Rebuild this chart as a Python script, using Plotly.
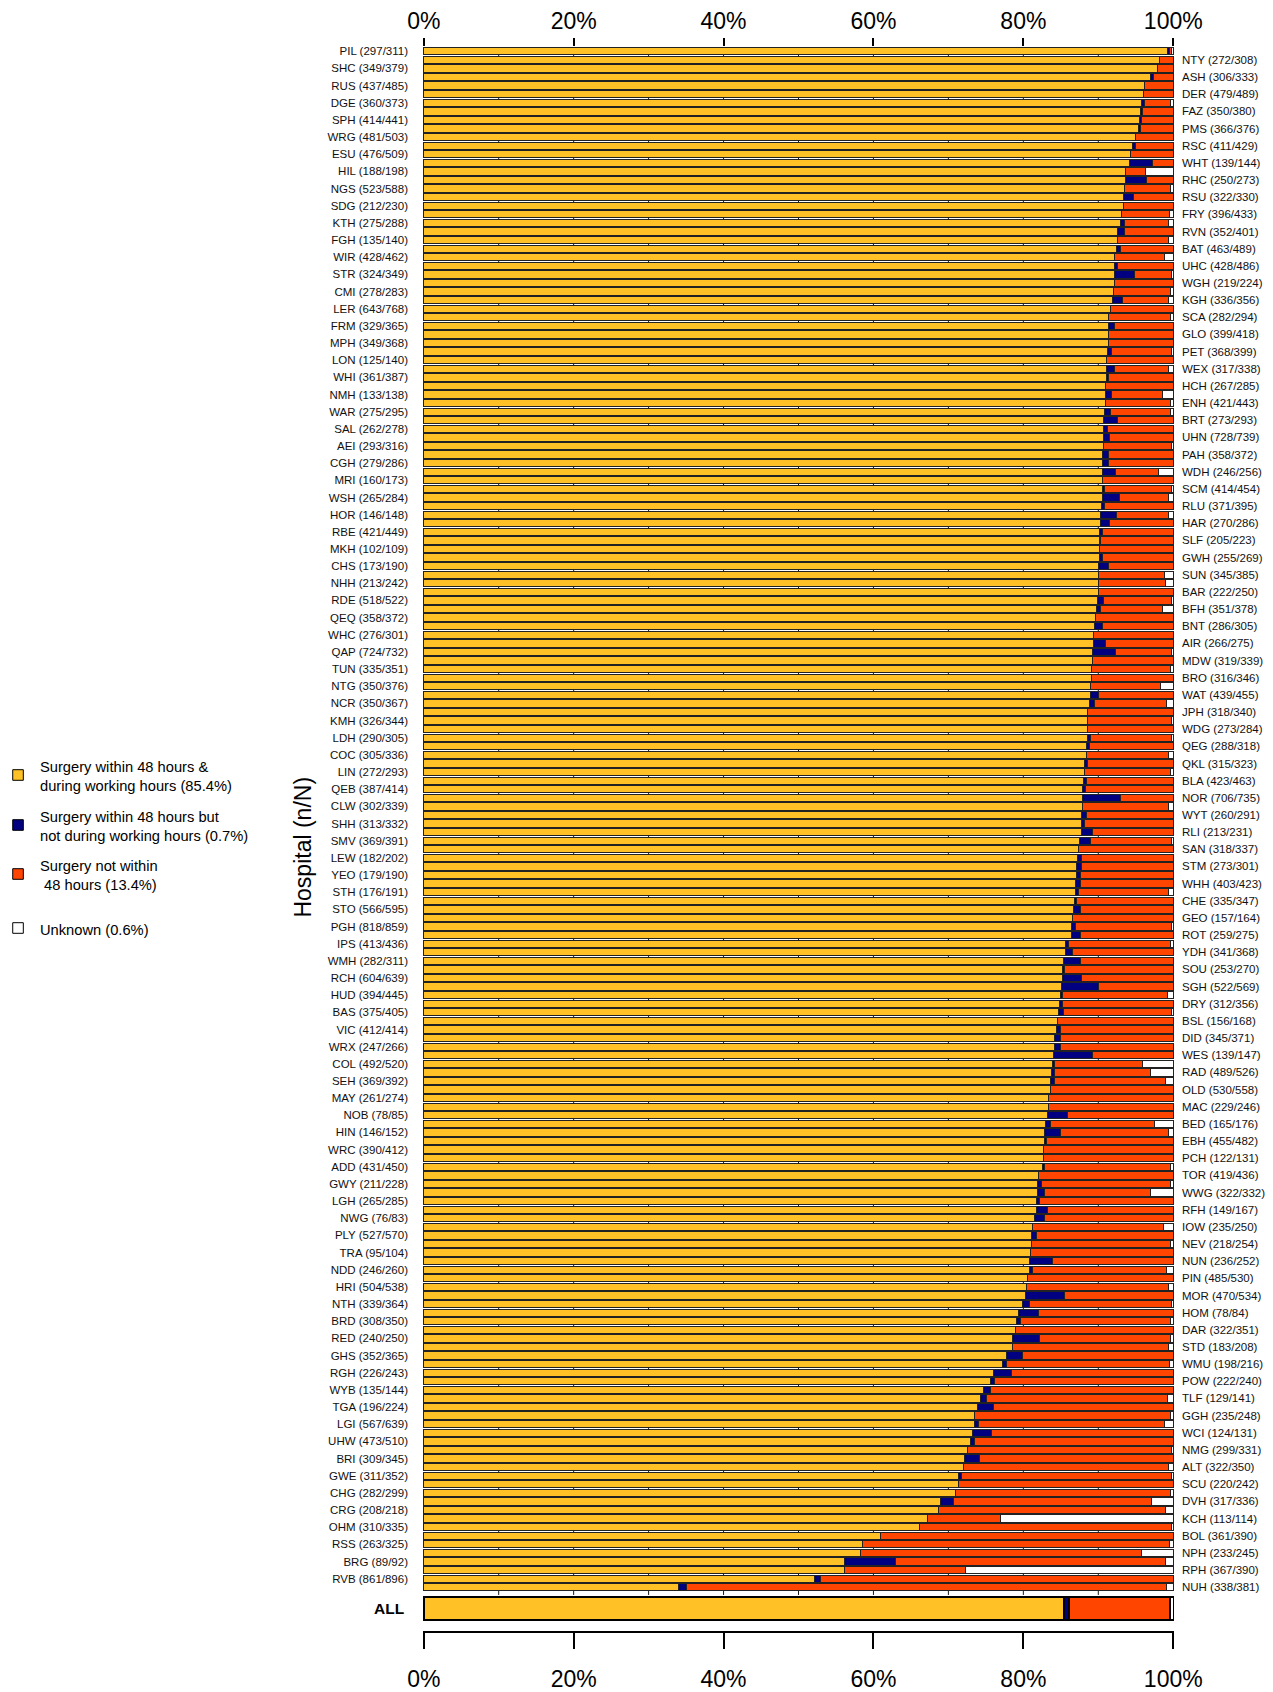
import plotly.graph_objects as go

left_labels = ["PIL (297/311)","SHC (349/379)","RUS (437/485)","DGE (360/373)","SPH (414/441)","WRG (481/503)",
"ESU (476/509)","HIL (188/198)","NGS (523/588)","SDG (212/230)","KTH (275/288)","FGH (135/140)","WIR (428/462)",
"STR (324/349)","CMI (278/283)","LER (643/768)","FRM (329/365)","MPH (349/368)","LON (125/140)","WHI (361/387)",
"NMH (133/138)","WAR (275/295)","SAL (262/278)","AEI (293/316)","CGH (279/286)","MRI (160/173)","WSH (265/284)",
"HOR (146/148)","RBE (421/449)","MKH (102/109)","CHS (173/190)","NHH (213/242)","RDE (518/522)","QEQ (358/372)",
"WHC (276/301)","QAP (724/732)","TUN (335/351)","NTG (350/376)","NCR (350/367)","KMH (326/344)","LDH (290/305)",
"COC (305/336)","LIN (272/293)","QEB (387/414)","CLW (302/339)","SHH (313/332)","SMV (369/391)","LEW (182/202)",
"YEO (179/190)","STH (176/191)","STO (566/595)","PGH (818/859)","IPS (413/436)","WMH (282/311)","RCH (604/639)",
"HUD (394/445)","BAS (375/405)","VIC (412/414)","WRX (247/266)","COL (492/520)","SEH (369/392)","MAY (261/274)",
"NOB (78/85)","HIN (146/152)","WRC (390/412)","ADD (431/450)","GWY (211/228)","LGH (265/285)","NWG (76/83)",
"PLY (527/570)","TRA (95/104)","NDD (246/260)","HRI (504/538)","NTH (339/364)","BRD (308/350)","RED (240/250)",
"GHS (352/365)","RGH (226/243)","WYB (135/144)","TGA (196/224)","LGI (567/639)","UHW (473/510)","BRI (309/345)",
"GWE (311/352)","CHG (282/299)","CRG (208/218)","OHM (310/335)","RSS (263/325)","BRG (89/92)","RVB (861/896)"]

right_labels = ["NTY (272/308)","ASH (306/333)","DER (479/489)","FAZ (350/380)","PMS (366/376)","RSC (411/429)",
"WHT (139/144)","RHC (250/273)","RSU (322/330)","FRY (396/433)","RVN (352/401)","BAT (463/489)","UHC (428/486)",
"WGH (219/224)","KGH (336/356)","SCA (282/294)","GLO (399/418)","PET (368/399)","WEX (317/338)","HCH (267/285)",
"ENH (421/443)","BRT (273/293)","UHN (728/739)","PAH (358/372)","WDH (246/256)","SCM (414/454)","RLU (371/395)",
"HAR (270/286)","SLF (205/223)","GWH (255/269)","SUN (345/385)","BAR (222/250)","BFH (351/378)","BNT (286/305)",
"AIR (266/275)","MDW (319/339)","BRO (316/346)","WAT (439/455)","JPH (318/340)","WDG (273/284)","QEG (288/318)",
"QKL (315/323)","BLA (423/463)","NOR (706/735)","WYT (260/291)","RLI (213/231)","SAN (318/337)","STM (273/301)",
"WHH (403/423)","CHE (335/347)","GEO (157/164)","ROT (259/275)","YDH (341/368)","SOU (253/270)","SGH (522/569)",
"DRY (312/356)","BSL (156/168)","DID (345/371)","WES (139/147)","RAD (489/526)","OLD (530/558)","MAC (229/246)",
"BED (165/176)","EBH (455/482)","PCH (122/131)","TOR (419/436)","WWG (322/332)","RFH (149/167)","IOW (235/250)",
"NEV (218/254)","NUN (236/252)","PIN (485/530)","MOR (470/534)","HOM (78/84)","DAR (322/351)","STD (183/208)",
"WMU (198/216)","POW (222/240)","TLF (129/141)","GGH (235/248)","WCI (124/131)","NMG (299/331)","ALT (322/350)",
"SCU (220/242)","DVH (317/336)","KCH (113/114)","BOL (361/390)","NPH (233/245)","RPH (367/390)","NUH (338/381)"]

# percentages per hospital, in bar order (top to bottom; odd bars = left labels, even bars = right labels)
pct_within_working = [
99.2,98.1,97.9,97.0,96.1,96.0,95.8,95.6,95.5,95.3,
95.0,94.6,94.3,94.2,93.6,93.6,93.5,93.4,93.3,93.1,
93.0,92.6,92.6,92.4,92.2,92.2,92.2,92.1,92.0,91.9,
91.6,91.4,91.4,91.4,91.3,91.2,91.1,91.1,91.1,91.0,
90.9,90.9,90.8,90.7,90.7,90.7,90.7,90.6,90.6,90.6,
90.5,90.5,90.5,90.4,90.3,90.3,90.2,90.1,90.1,90.1,
90.0,90.0,90.0,90.0,89.9,89.8,89.6,89.5,89.4,89.4,
89.2,89.2,89.1,89.1,89.0,89.0,88.8,88.5,88.5,88.5,
88.5,88.4,88.4,88.2,88.1,88.0,87.9,87.9,87.9,87.8,
87.7,87.7,87.5,87.4,87.2,87.1,87.1,87.0,86.9,86.8,
86.7,86.5,86.4,86.4,85.6,85.6,85.3,85.2,85.2,85.1,
84.9,84.8,84.7,84.5,84.4,84.2,84.1,84.0,83.9,83.7,
83.6,83.6,83.4,83.3,83.2,82.9,82.8,82.8,82.7,82.7,
82.5,82.0,81.9,81.9,81.8,81.8,81.5,81.2,81.1,81.1,
80.9,80.8,80.8,80.5,80.4,80.3,79.9,79.3,79.1,79.0,
78.6,78.5,77.8,77.2,76.0,75.6,74.7,74.3,73.9,73.5,
73.5,73.2,73.0,72.5,72.1,72.0,71.3,71.3,70.9,69.0,
68.7,67.2,66.2,60.9,58.6,58.3,56.1,56.1,52.2,34.0]

pct_within_out_of_hours = [
0.3,0,0,0.4,0,0,0.3,0.3,0.3,0.3,
0,0.3,0,3.0,0,2.8,0,1.3,0,0,
0.5,0.9,0,0.5,0,0.3,2.6,0,0,1.3,
0,0,0.7,0,0,0.6,0,1.0,0.3,0,
0.8,0,0.8,1.9,0.5,0.8,0,0.7,0.8,1.7,
0,0.3,2.3,0.4,2.1,1.2,0.3,0.2,0,0.5,
1.4,0,0,0,0.8,0.5,0,1.0,0,1.5,
3.1,0,0,0,0,1.0,0.7,0,0,0,
0.4,0.4,0,0.4,0,0.4,0.4,5.0,0,0.6,
0.4,1.5,1.4,0,0.6,0.7,0.5,0.6,0.5,0.3,
0.9,0,0.6,1.2,0.4,0.9,2.3,0.3,2.6,4.9,
0.3,0.4,0.6,0,0.6,0.7,0.9,5.2,0.2,0.5,
0.6,0,0,0,2.7,0.7,2.1,0.3,0,0,
0.3,0,0.5,0.9,0.4,1.4,1.3,0,0.7,0,
0,3.1,0.4,0,0,5.2,0.9,2.7,0.5,0,
3.5,0,2.1,0.6,2.4,0.5,0.9,0.8,2.1,0,
0.5,2.5,0.5,0,2.0,0,0.4,0,0,1.7,
0,0,0,0,0,0,6.9,0,0.7,1.1]

pct_not_within = [
0.3,1.9,2.1,2.6,3.9,4.0,3.5,4.1,4.2,4.4,
5.0,5.1,5.7,2.8,2.7,3.6,6.1,5.3,6.7,6.4,
5.8,6.5,6.7,7.1,6.6,7.5,5.0,7.9,7.6,6.2,
8.4,8.2,7.9,8.6,8.7,7.9,8.9,7.3,8.6,9.0,
6.8,8.7,8.0,7.4,8.8,8.5,9.0,8.7,8.6,5.7,
9.5,8.9,6.5,9.2,6.9,8.5,9.5,9.7,9.9,9.4,
8.6,8.8,9.0,10.0,9.0,8.3,10.4,9.5,10.6,9.1,
7.5,10.8,10.5,10.9,9.3,10.0,9.6,11.5,11.2,11.5,
10.8,11.2,10.9,11.4,11.5,11.6,11.7,7.1,11.4,11.6,
11.9,10.8,10.8,12.6,12.2,12.2,12.4,12.4,12.0,12.9,
12.4,13.5,12.8,12.4,13.6,13.5,12.4,14.5,12.2,10.0,
14.0,14.8,14.4,15.5,15.0,15.1,15.0,10.8,11.8,12.7,
14.7,16.4,16.6,16.7,14.1,13.9,14.4,16.9,17.3,17.3,
16.8,18.0,17.2,14.1,17.8,16.8,17.2,17.5,18.2,18.5,
19.1,16.1,17.9,19.5,19.0,14.5,18.9,18.0,20.0,21.0,
17.5,20.9,20.1,21.7,21.6,23.9,24.4,24.1,24.0,26.1,
24.8,24.3,26.5,27.2,25.9,27.4,28.0,28.7,28.7,26.4,
30.3,9.8,33.5,39.1,40.9,37.4,35.9,16.2,47.1,64.0]

pct_unknown = [
0.2,0,0,0,0,0,0.4,0,0,0,
0,0,0,0,3.7,0,0.4,0,0,0.5,
0.7,0,0.7,0,1.2,0,0.2,0,0.4,0.6,
0,0.4,0,0,0,0.3,0,0.6,0,0,
1.5,0.4,0.4,0,0,0,0.3,0,0,2.0,
0,0.3,0.7,0,0.7,0,0,0,0,0,
0,1.2,1.0,0,0.3,1.4,0,0,0,0,
0.2,0,0.4,0,1.7,0,0.9,0,0.3,0,
0.3,0,0.7,0,0.4,0,0,0,0.7,0,
0,0,0.3,0,0,0,0,0,0.6,0,
0,0,0.2,0,0.4,0,0,0,0,0,
0.8,0,0.3,0,0,0,0,0,4.1,3.1,
1.1,0,0,0,0,2.5,0.7,0,0,0,
0.4,0,0.4,3.1,0,0,0,1.3,0,0.4,
0,0,0.9,0,0.6,0,0.3,0,0.4,0,
0.4,0.6,0,0.5,0,0,0,0.8,0,0.4,
1.2,0,0,0.3,0,0.6,0.3,0,0.4,2.9,
1.0,23.0,0.3,0,0.5,4.3,1.1,27.7,0,0.9]

all_values = [85.4, 0.7, 13.4, 0.6]
legend_texts = ["Surgery within 48 hours &<br>during working hours (85.4%)",
                "Surgery within 48 hours but<br>not during working hours (0.7%)",
                "Surgery not within<br> 48 hours (13.4%)",
                "Unknown (0.6%)"]
tick_vals = [0, 20, 40, 60, 80, 100]
tick_text = ["0%", "20%", "40%", "60%", "80%", "100%"]

colors = ["#FFC125", "#000080", "#FF4500", "#FFFFFF"]
series = [pct_within_working, pct_within_out_of_hours, pct_not_within, pct_unknown]
FONT = "Liberation Sans, Arial, Helvetica, sans-serif"

n = len(pct_within_working)
pos = list(range(1, n + 1))
pos_left = pos[0::2]
pos_right = pos[1::2]
Y_ALL = 182.5
YRANGE = [185.1, 0.5]

fig = go.Figure()
for vals, col in zip(series, colors):
    for sub, yp, yax in ((slice(0, None, 2), pos_left, "y"), (slice(1, None, 2), pos_right, "y2")):
        xv = [v if v > 0 else None for v in vals[sub]]
        fig.add_trace(go.Bar(x=xv, y=yp, orientation="h", xaxis="x", yaxis=yax, width=0.85,
                             marker=dict(color=col, line=dict(color="#222222", width=1)),
                             showlegend=False, hoverinfo="x+y"))
for v, col in zip(all_values, colors):
    fig.add_trace(go.Bar(x=[v], y=[Y_ALL], orientation="h", xaxis="x2", yaxis="y", width=2.62,
                         marker=dict(color=col, line=dict(color="#000000", width=2)),
                         showlegend=False))

# vertical guide lines behind hospital bars
shapes = []
for gx in range(10, 100, 10):
    shapes.append(dict(type="line", xref="x", yref="y", x0=gx, x1=gx, y0=0.5, y1=180.9,
                       line=dict(color="#1a1a1a", width=1), layer="below"))

W, H = 1273, 1692
ML, MR, MT, MB = 422.55, 98.95, 47, 61
PW, PH = W - ML - MR, H - MT - MB
def px2paper(px, py):
    return (px - ML) / PW, (H - MB - py) / PH

annotations = []
leg_y = [775, 825, 874, 928]
for txt, col, yy in zip(legend_texts, colors, leg_y):
    x0, y0 = px2paper(12, yy - 5.3)
    x1, y1 = px2paper(22.6, yy + 5.3)
    shapes.append(dict(type="rect", xref="paper", yref="paper", x0=x0, x1=x1, y0=y1, y1=y0,
                       fillcolor=col, line=dict(color="#000000", width=1)))
    tx, ty = px2paper(37, yy + 1.5)
    annotations.append(dict(xref="paper", yref="paper", x=tx, y=ty, text=txt, showarrow=False,
                            xanchor="left", yanchor="middle", align="left",
                            font=dict(family=FONT, size=14.7, color="#000000")))
tx, ty = px2paper(302, 847)
annotations.append(dict(xref="paper", yref="paper", x=tx, y=ty, text="Hospital (n/N)", textangle=-90,
                        showarrow=False, xanchor="center", yanchor="middle",
                        font=dict(family=FONT, size=23, color="#000000")))
tx, ty = px2paper(406, 1608.5)
annotations.append(dict(xref="paper", yref="paper", x=tx, y=ty, text="<b>ALL</b>", showarrow=False,
                        xanchor="right", yanchor="middle",
                        font=dict(family=FONT, size=15.5, color="#000000")))

fig.update_layout(
    width=W, height=H, barmode="stack",
    margin=dict(l=ML, r=MR, t=MT, b=MB, pad=0, autoexpand=False),
    plot_bgcolor="white", paper_bgcolor="white",
    font=dict(family=FONT, color="#000000"),
    shapes=shapes, annotations=annotations,
    xaxis=dict(range=[-0.1, 100.1], tickvals=tick_vals, ticktext=tick_text, side="bottom",
               ticks="outside", ticklen=16, tickwidth=1.5, tickcolor="#000000",
               showline=True, linewidth=1.5, linecolor="#000000", showgrid=False, zeroline=False,
               tickfont=dict(size=23, family=FONT), ticklabelstandoff=11, fixedrange=True,
               automargin=False),
    xaxis2=dict(range=[-0.1, 100.1], overlaying="x", side="top", anchor="y", tickvals=tick_vals,
                ticktext=tick_text, ticks="outside", ticklen=8, tickwidth=1.5, tickcolor="#000000",
                showline=False, showgrid=False, zeroline=False,
                tickfont=dict(size=23, family=FONT), ticklabelstandoff=0, automargin=False),
    yaxis=dict(range=YRANGE, tickvals=pos_left, ticktext=left_labels, ticks="", showline=False,
               showgrid=False, zeroline=False, tickfont=dict(size=11.5, family=FONT, color="#111111"),
               ticklabelstandoff=14, automargin=False),
    yaxis2=dict(range=YRANGE, overlaying="y", side="right", anchor="x", tickvals=pos_right,
                ticktext=right_labels, ticks="", showline=False, showgrid=False, zeroline=False,
                tickfont=dict(size=11.5, family=FONT, color="#111111"), ticklabelstandoff=7,
                automargin=False),
)

fig.write_html("out.html", config={"displayModeBar": False},
               post_script="document.body.style.margin='0';document.body.style.padding='0';")
